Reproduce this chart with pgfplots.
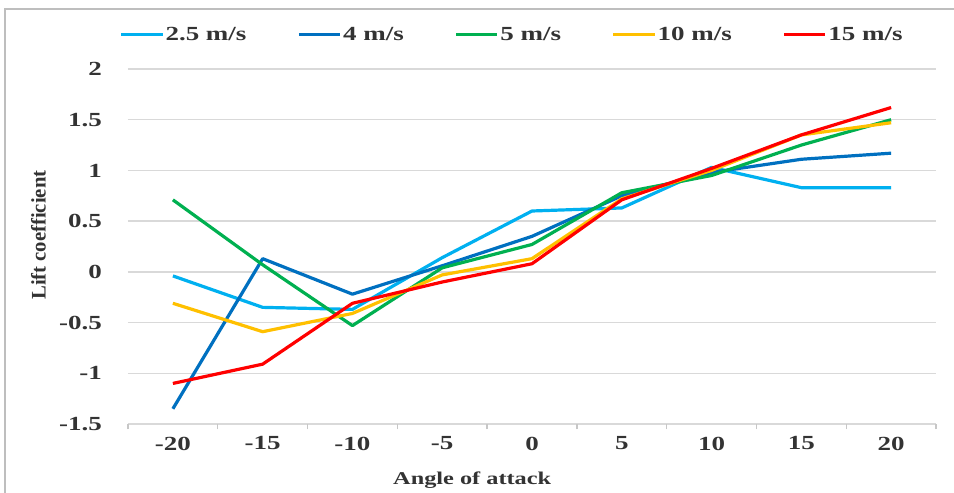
\documentclass[border=0pt]{standalone}
\usepackage{pgfplots}
\pgfplotsset{compat=1.18}
\usepackage{fontspec}
\setmainfont{Liberation Serif}[FakeStretch=1.35]
\definecolor{cA}{RGB}{0,176,240}
\definecolor{cB}{RGB}{0,112,192}
\definecolor{cC}{RGB}{0,176,80}
\definecolor{cD}{RGB}{255,192,0}
\definecolor{cE}{RGB}{255,0,0}
\definecolor{gridc}{RGB}{217,217,217}
\begin{document}
\begin{tikzpicture}
\useasboundingbox (0,0) rectangle (715.5pt,369.75pt);
\draw[gridc!70!gray, line width=0.8pt] (3.75pt,0pt) -- (3.75pt,363pt) -- (715.5pt,363pt);
\begin{axis}[
  at={(96pt,51.75pt)}, anchor=south west,
  scale only axis, width=606pt, height=266.25pt,
  xmin=-22.5, xmax=22.5, ymin=-1.5, ymax=2,
  axis line style={draw=none},
  ymajorgrids, grid style={gridc, line width=1pt},
  ytick={-1.5,-1,-0.5,0,0.5,1,1.5,2},
  yticklabels={-1.5,-1,-0.5,0,0.5,1,1.5,2},
  xtick={-20,-15,-10,-5,0,5,10,15,20},
  xticklabels={-20,-15,-10,-5,0,5,10,15,20},
  major tick length=0pt,
  xtick pos=bottom, ytick pos=left,
  extra x ticks={-22.5,-17.5,-12.5,-7.5,-2.5,2.5,7.5,12.5,17.5,22.5},
  extra x tick labels={},
  extra x tick style={major tick length=4pt, tick align=outside, tick style={draw=gridc!80!gray, line width=1pt}},
  ticklabel style={font=\fontsize{15pt}{15pt}\selectfont\bfseries, text=black!80},
  xticklabel style={yshift=-6pt},
  yticklabel style={xshift=-16pt},
  xlabel={Angle of attack},
  xlabel style={at={(axis description cs:0.426,-0.158)}, anchor=center, font=\fontsize{13.5pt}{13.5pt}\selectfont\bfseries, text=black!80},
  ylabel={\scalebox{1}[1.35]{Lift coefficient}},
  ylabel style={at={(axis description cs:-0.111,0.532)}, anchor=center, font=\fontsize{11.5pt}{11.5pt}\selectfont\bfseries, text=black!80},
  legend columns=5,
  legend style={at={(axis description cs:0.475,1.097)}, anchor=center, draw=none, fill=none,
    font=\fontsize{15pt}{15pt}\selectfont\bfseries, text=black!80,
    /tikz/every even column/.append style={column sep=37pt},
    nodes={inner sep=1pt}},
  legend image code/.code={\draw[#1] (0pt,0pt) -- (31pt,0pt);},
  every axis plot/.append style={line width=2.4pt, line join=round, mark=none},
]
\addplot[cA] coordinates {(-20,-0.04) (-15,-0.35) (-10,-0.37) (-5,0.14) (0,0.60) (5,0.63) (10,1.03) (15,0.83) (20,0.83)};
\addlegendentry{2.5 m/s}
\addplot[cB] coordinates {(-20,-1.35) (-15,0.13) (-10,-0.22) (-5,0.06) (0,0.35) (5,0.75) (10,0.98) (15,1.11) (20,1.17)};
\addlegendentry{4 m/s}
\addplot[cC] coordinates {(-20,0.71) (-15,0.07) (-10,-0.53) (-5,0.04) (0,0.27) (5,0.78) (10,0.95) (15,1.25) (20,1.50)};
\addlegendentry{5 m/s}
\addplot[cD] coordinates {(-20,-0.31) (-15,-0.59) (-10,-0.41) (-5,-0.03) (0,0.13) (5,0.72) (10,1.00) (15,1.35) (20,1.47)};
\addlegendentry{10 m/s}
\addplot[cE] coordinates {(-20,-1.10) (-15,-0.91) (-10,-0.31) (-5,-0.10) (0,0.08) (5,0.71) (10,1.02) (15,1.35) (20,1.62)};
\addlegendentry{15 m/s}
\end{axis}
\end{tikzpicture}
\end{document}
